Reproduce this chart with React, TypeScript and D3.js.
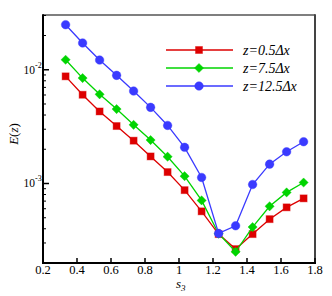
import * as d3 from "d3";

const s3 = [0.333, 0.433, 0.533, 0.633, 0.733, 0.833, 0.933, 1.033, 1.133, 1.233, 1.333, 1.433, 1.533, 1.633, 1.733];
const z05 = [0.00875, 0.00603, 0.0043, 0.0032, 0.00238, 0.00173, 0.00126, 0.000874, 0.000569, 0.000359, 0.000265, 0.000359, 0.000486, 0.000617, 0.00074];
const z75 = [0.01225, 0.00845, 0.00608, 0.00451, 0.00328, 0.00241, 0.00172, 0.00116, 0.00071, 0.000362, 0.000251, 0.000414, 0.00063, 0.000835, 0.00102];
const z125 = [0.0249, 0.0172, 0.01217, 0.00893, 0.0065, 0.00467, 0.00324, 0.00208, 0.00113, 0.000364, 0.000425, 0.00098, 0.00148, 0.0019, 0.00233];
const xTicks = [0.2, 0.4, 0.6, 0.8, 1, 1.2, 1.4, 1.6, 1.8];
const yMajor = [1e-3, 1e-2];
const yMinor = [2e-4, 3e-4, 4e-4, 5e-4, 6e-4, 7e-4, 8e-4, 9e-4, 2e-3, 3e-3, 4e-3, 5e-3, 6e-3, 7e-3, 8e-3, 9e-3, 2e-2, 3e-2];

const series = [
  { label: "0.5", values: z05, color: "#dd0000", shape: "square" },
  { label: "7.5", values: z75, color: "#00d400", shape: "diamond" },
  { label: "12.5", values: z125, color: "#3a3aff", shape: "circle" },
];

const L = 43, R = 315, T = 15, B = 263;

function Marker({ x, y, shape, color }: { x: number; y: number; shape: string; color: string }) {
  if (shape === "square") return <rect x={x - 3.5} y={y - 3.5} width={7} height={7} fill={color} stroke={color} strokeOpacity={0.4} />;
  if (shape === "diamond") return <path d={`M${x},${y - 4.6}L${x + 4.6},${y}L${x},${y + 4.6}L${x - 4.6},${y}Z`} fill={color} stroke={color} strokeOpacity={0.4} />;
  return <circle cx={x} cy={y} r={4.3} fill={color} stroke={color} strokeOpacity={0.4} />;
}

export default function App() {
  const x = d3.scaleLinear().domain([0.2, 1.8]).range([L, R]);
  const y = d3.scaleLog().domain([2e-4, 3.03e-2]).range([B, T]);
  const line = d3.line<number>().x((_, i) => x(s3[i])).y(d => y(d));
  const font = "\"Liberation Serif\", \"DejaVu Serif\", serif";

  return (
    <svg width={332} height={296} style={{ position: "absolute", left: 0, top: 0, background: "#fff", fontFamily: font }}>
      {series.map(s => (
        <g key={s.label}>
          <path d={line(s.values) || ""} fill="none" stroke={s.color} strokeWidth={1.3} />
          {s.values.map((v, i) => <Marker key={i} x={x(s3[i])} y={y(v)} shape={s.shape} color={s.color} />)}
        </g>
      ))}

      {/* frame */}
      <line x1={L} y1={T} x2={R} y2={T} stroke="#555" strokeWidth={1.5} />
      <line x1={R} y1={T - 0.7} x2={R} y2={B} stroke="#444" strokeWidth={2} />
      <line x1={L} y1={T - 0.7} x2={L} y2={B + 1} stroke="#000" strokeWidth={2} />
      <line x1={L - 1} y1={B} x2={R + 1} y2={B} stroke="#000" strokeWidth={2} />

      {xTicks.map(t => (
        <g key={t}>
          <line x1={x(t)} x2={x(t)} y1={B} y2={B - 5} stroke="#000" strokeWidth={1.5} />
          <text x={x(t)} y={273.5} fontSize={12.5} textAnchor="middle">{t}</text>
        </g>
      ))}
      {yMinor.map(t => (
        <line key={t} x1={L} x2={L + 3} y1={y(t)} y2={y(t)} stroke="#000" strokeWidth={1} />
      ))}
      {yMajor.map(t => (
        <g key={t}>
          <line x1={L} x2={L + 6} y1={y(t)} y2={y(t)} stroke="#000" strokeWidth={1.5} />
          <text x={35} y={y(t) + 4} fontSize={11.5} textAnchor="end">10</text>
          <text x={35} y={y(t) - 2} fontSize={8}>{"-" + Math.round(-Math.log10(t))}</text>
        </g>
      ))}

      <text x={176} y={288} fontSize={13} fontStyle="italic">s<tspan fontSize={9} dy={3}>3</tspan></text>
      <text transform="translate(18,134) rotate(-90)" fontSize={13} textAnchor="middle">
        <tspan fontStyle="italic">E</tspan>(<tspan fontStyle="italic">z</tspan>)
      </text>

      {series.map((s, i) => {
        const ly = 50 + i * 18;
        return (
          <g key={"lg" + s.label}>
            <line x1={166} x2={233} y1={ly} y2={ly} stroke={s.color} strokeWidth={1.3} />
            <Marker x={199} y={ly} shape={s.shape} color={s.color} />
            <text x={243} y={ly + 4.5} fontSize={14} fontStyle="italic">{"z=" + s.label + "\u0394x"}</text>
          </g>
        );
      })}
    </svg>
  );
}
